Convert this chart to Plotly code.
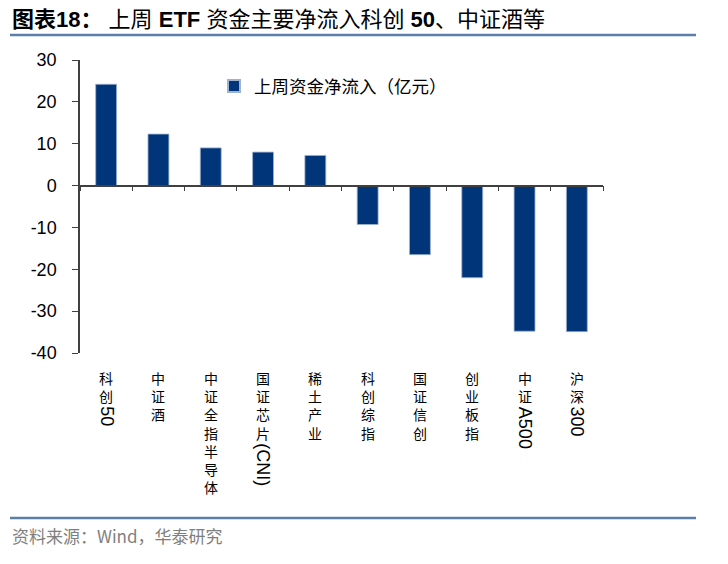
import plotly.graph_objects as go

categories = ["科创50", "中证酒", "中证全指半导体", "国证芯片(CNI)", "稀土产业",
              "科创综指", "国证信创", "创业板指", "中证A500", "沪深300"]
values = [24.2, 12.3, 9.0, 8.0, 7.2, -9.3, -16.5, -22.0, -34.8, -34.9]
series_name = "上周资金净流入（亿元）"
y_ticks = [-40, -30, -20, -10, 0, 10, 20, 30]
title_text = "<b>图表18：</b> 上周 <b>ETF</b> 资金主要净流入科创 <b>50</b>、中证酒等"
source_text = "资料来源：Wind，华泰研究"

W, H = 728, 564
L, R, T, B = 80, 603, 60, 353  # plot area pixel edges
pw, ph = R - L, B - T

def px_x(p):
    return (p - L) / pw

def px_y(p):
    return (B - p) / ph

BAR = "#003679"
FONT = "Liberation Sans, Arial, Noto Sans CJK SC"
CJK = "Noto Sans CJK SC"

fig = go.Figure()
fig.add_trace(go.Bar(
    x=categories, y=values, name=series_name,
    marker=dict(color=BAR, line=dict(color="#9fb3d1", width=0.8)),
    width=0.4, showlegend=True,
))

ymin, ymax = y_ticks[0], y_ticks[-1]
zero_pos = (0 - ymin) / (ymax - ymin)

fig.update_layout(
    width=W, height=H,
    margin=dict(l=L, r=W - R, t=T, b=H - B, pad=0),
    paper_bgcolor="white", plot_bgcolor="white",
    font=dict(family=FONT, color="black"),
    showlegend=True,
    legend=dict(orientation="h", x=px_x(214), y=px_y(86), xanchor="left", yanchor="middle",
                font=dict(family=CJK, size=17.5, color="black"), bgcolor="rgba(0,0,0,0)",
                itemwidth=30, itemsizing="constant"),
    xaxis=dict(type="category", range=[-0.5, len(categories) - 0.5],
               anchor="free", position=zero_pos,
               showline=True, linecolor="#404040", linewidth=1.5,
               ticks="outside", tickson="boundaries", ticklen=5, tickwidth=1.3,
               tickcolor="#404040", showticklabels=False, showgrid=False, zeroline=False),
    yaxis=dict(range=[ymin, ymax], tickvals=y_ticks, ticktext=[str(v) for v in y_ticks],
               showline=True, linecolor="#404040", linewidth=1.5,
               ticks="outside", ticklen=6, tickwidth=1.3, tickcolor="#404040",
               tickfont=dict(family=FONT, size=18, color="black"),
               ticklabelstandoff=12,
               showgrid=False, zeroline=False),
)

# Category labels: stacked CJK characters, rotated latin part
cjk_size = 14
pitch = 1.3 * cjk_size
for cat in categories:
    idx = len(cat)
    for i, ch in enumerate(cat):
        if ord(ch) < 128:
            idx = i
            break
    cjk, lat = cat[:idx], cat[idx:]
    top = 367
    fig.add_annotation(x=cat, xref="x", y=0, yref="paper", yanchor="top", xanchor="center",
                       yshift=-(top - B), text="<br>".join(cjk), showarrow=False,
                       font=dict(family=CJK, size=cjk_size, color="black"), borderpad=0)
    if lat:
        ltop = top + len(cjk) * pitch + 2
        fig.add_annotation(x=cat, xref="x", y=0, yref="paper", yanchor="top", xanchor="center",
                           yshift=-(ltop - B), text=lat, textangle=90, showarrow=False,
                           font=dict(family=FONT, size=18, color="black"), borderpad=0)

# Title and source
fig.add_annotation(x=px_x(10), y=px_y(20), xref="paper", yref="paper", xanchor="left",
                   yanchor="middle", text=title_text, showarrow=False,
                   font=dict(family=FONT, size=22, color="black"))
fig.add_annotation(x=px_x(10), y=px_y(535), xref="paper", yref="paper", xanchor="left",
                   yanchor="middle", text=source_text, showarrow=False,
                   font=dict(family=CJK, size=17, color="#7f7f7f"))

line_color = "#5b7fab"
for py in (35, 518):
    fig.add_shape(type="line", xref="paper", yref="paper", x0=px_x(10), x1=px_x(696),
                  y0=px_y(py), y1=px_y(py), line=dict(color=line_color, width=2.5))

fig.write_html("out.html", config={"displayModeBar": False},
               post_script="document.body.style.margin='0px';")
